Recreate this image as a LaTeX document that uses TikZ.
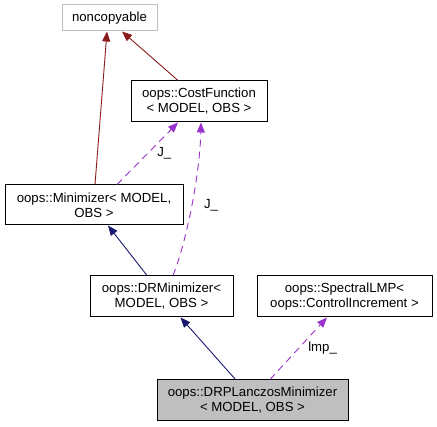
\documentclass[tikz,border=0pt]{standalone}
\usepackage{fontspec}
\setmainfont{Liberation Sans}
\usetikzlibrary{arrows.meta}

\definecolor{inhred}{HTML}{8B1A1A}
\definecolor{inhblue}{HTML}{191970}
\definecolor{usepurple}{HTML}{9A32CD}
\definecolor{boxgray}{HTML}{BFBFBF}

\begin{document}
\begin{tikzpicture}[x=1pt, y=-1pt, >={Triangle[length=10pt,width=8pt]},
    cls/.style={draw=black, line width=1pt, align=center, inner sep=0pt,
        font=\fontsize{13.2}{15}\selectfont},
    lbl/.style={text=black, font=\fontsize{13.2}{15}\selectfont},
    inhr/.style={->, color=inhred, line width=0.9pt},
    inhb/.style={->, color=inhblue, line width=0.9pt},
    usage/.style={->, color=usepurple, line width=0.9pt, dash pattern=on 7pt off 5pt}]
        \useasboundingbox (0,0) rectangle (437,427);

        \node[cls, draw=boxgray, minimum width=95pt, minimum height=26pt] (noncopy) at (109.5,18) {noncopyable};
        \node[cls, minimum width=136pt, minimum height=41pt] (costfn) at (199,101.5) {oops::CostFunction\\< MODEL, OBS >};
        \node[cls, minimum width=178pt, minimum height=40pt] (minim) at (94,205) {oops::Minimizer< MODEL,\\OBS >};
        \node[cls, minimum width=143pt, minimum height=41pt] (drmin) at (161.5,296.5) {oops::DRMinimizer<\\MODEL, OBS >};
        \node[cls, minimum width=175pt, minimum height=41pt] (spectral) at (344.5,296.5) {oops::SpectralLMP<\\oops::ControlIncrement >};
        \node[cls, fill=boxgray, minimum width=191pt, minimum height=41pt] (drplanczos) at (252.5,400.5) {oops::DRPLanczosMinimizer\\< MODEL, OBS >};

        % inheritance
        \draw[inhr] ([xshift=1pt]minim.north) -- ([xshift=-2.5pt]noncopy.south);
        \draw[inhr] ([xshift=-21pt]costfn.north) -- ([xshift=12.5pt]noncopy.south);
        \draw[inhb] ([xshift=-14.5pt]drmin.north) -- ([xshift=14pt]minim.south);
        \draw[inhb] ([xshift=-17pt]drplanczos.north) -- ([xshift=19pt]drmin.south);

        % usage
        \draw[usage] ([xshift=23pt]minim.north) -- ([xshift=-21pt]costfn.south) node[lbl, pos=0.5, right=6pt] {J\_};
        \draw[usage] ([xshift=11.5pt]drmin.north) .. controls +(14,-35) and +(-1,50) .. ([xshift=2pt]costfn.south);
        \node[lbl] (jlabel) at (211,205) {J\_};
        \draw[usage] ([xshift=17.5pt]drplanczos.north) -- ([xshift=-17.5pt]spectral.south) node[lbl, pos=0.5, right=6pt] {lmp\_};
\end{tikzpicture}
\end{document}
